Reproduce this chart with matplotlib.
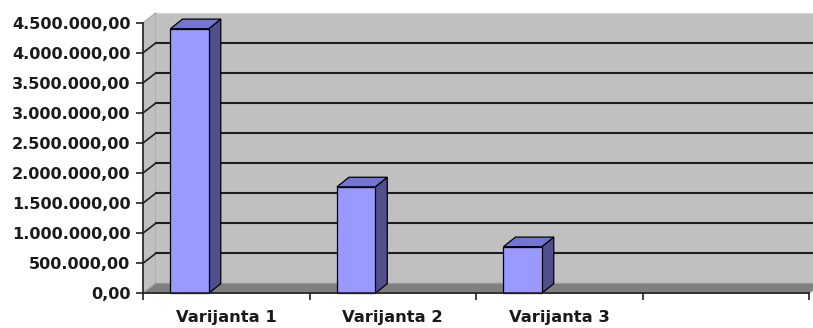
import matplotlib.pyplot as plt
from matplotlib.patches import Polygon
from matplotlib.ticker import FuncFormatter, FixedLocator

# Data
categories = ["Varijanta 1", "Varijanta 2", "Varijanta 3"]
values = [4400000, 1770000, 775000]
y_max = 4500000
y_step = 500000
n_slots = 4  # Excel leaves an empty fourth slot on the right

# 3D look (depth offset in data units)
depth_x = 0.078
depth_y = 166000
bar_dx = 0.072
bar_dy = 160000
bar_left = 0.165
bar_width = 0.23

wall_color = "#c0c0c0"
floor_color = "#808080"
grid_color = "#1e1e1e"
front_color = "#9999ff"
top_color = "#7474d4"
side_color = "#50508e"

fig = plt.figure(figsize=(8.13, 3.28), dpi=100)
ax = fig.add_axes([143 / 813, (328 - 293.3) / 328, (809 - 143) / 813, (293.3 - 22.7) / 328])
ax.set_xlim(0, n_slots)
ax.set_ylim(0, y_max)
ax.patch.set_visible(False)

def poly(points, fc, ec="none", lw=0.8, z=1):
    p = Polygon(points, closed=True, facecolor=fc, edgecolor=ec, linewidth=lw, zorder=z, clip_on=False)
    ax.add_patch(p)

# Back wall, left wall, floor
poly([(depth_x, depth_y), (n_slots + depth_x, depth_y), (n_slots + depth_x, y_max + depth_y),
      (depth_x, y_max + depth_y)], wall_color, "#d6d6d6", 1.0, 0)
poly([(0, 0), (depth_x, depth_y), (depth_x, y_max + depth_y), (0, y_max)], wall_color, "#a8a8a8", 0.8, 0)
poly([(0, 0), (n_slots, 0), (n_slots + depth_x, depth_y), (depth_x, depth_y)], floor_color, "#9a9a9a", 0.8, 1)

# Gridlines on back and left walls
for v in range(y_step, y_max, y_step):
    ax.plot([depth_x, n_slots + depth_x], [v + depth_y, v + depth_y], color=grid_color,
            linewidth=1.5, zorder=2, clip_on=False)
    ax.plot([0, depth_x], [v, v + depth_y], color=grid_color, linewidth=1.2, zorder=2, clip_on=False)

# Bars
for i, v in enumerate(values):
    x0 = i + bar_left
    x1 = x0 + bar_width
    poly([(x1, 0), (x1 + bar_dx, bar_dy), (x1 + bar_dx, v + bar_dy), (x1, v)], side_color, "black", 0.9, 3)
    poly([(x0, v), (x1, v), (x1 + bar_dx, v + bar_dy), (x0 + bar_dx, v + bar_dy)], top_color, "black", 0.9, 3)
    poly([(x0, 0), (x1, 0), (x1, v), (x0, v)], front_color, "black", 0.9, 4)

# Axes
for s in ["top", "right"]:
    ax.spines[s].set_visible(False)
for s in ["left", "bottom"]:
    ax.spines[s].set_color("#222222")
    ax.spines[s].set_linewidth(1.2)
    ax.spines[s].set_zorder(5)

def fmt(v, pos):
    s = f"{v:,.2f}"
    return s.replace(",", "X").replace(".", ",").replace("X", ".")

ax.yaxis.set_major_locator(FixedLocator(range(0, y_max + 1, y_step)))
ax.yaxis.set_major_formatter(FuncFormatter(fmt))
ax.tick_params(axis="y", direction="out", length=5, width=1.2, color="#222222", pad=4,
               labelsize=11.6, labelcolor="#1a1a1a")

ax.set_xticks(range(n_slots + 1))
ax.set_xticklabels([])
ax.set_xticks([i + 0.5 for i in range(len(categories))], minor=True)
ax.set_xticklabels(categories, minor=True)
ax.tick_params(axis="x", which="major", direction="out", length=5, width=1.2, color="#222222")
ax.tick_params(axis="x", which="minor", length=0, pad=12, labelsize=11.8, labelcolor="#1a1a1a")

for lab in ax.get_yticklabels() + ax.get_xticklabels(minor=True):
    lab.set_fontweight("bold")

fig.savefig("out.png", dpi=100)
